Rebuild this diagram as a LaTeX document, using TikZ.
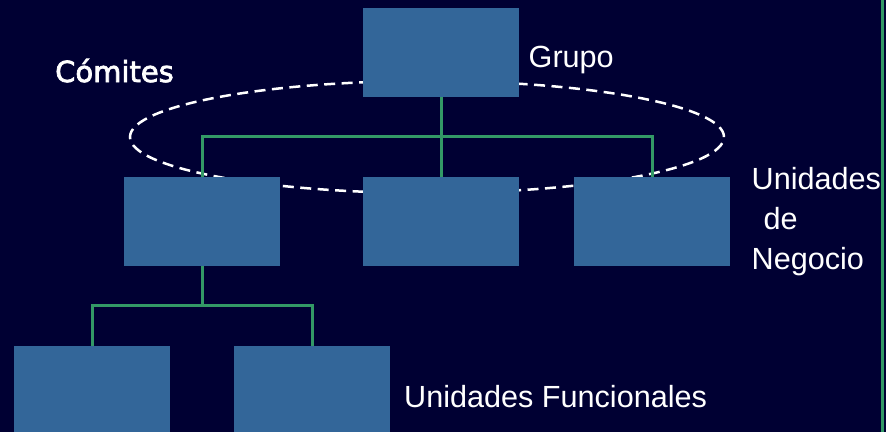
\documentclass[tikz,border=0pt]{standalone}
\usepackage{fontspec}
\setmainfont{Liberation Sans}
\newfontfamily\comfont{DejaVu Sans}[FakeBold=2.5]
\definecolor{bgnavy}{HTML}{000033}
\definecolor{boxblue}{HTML}{336699}
\definecolor{lineg}{HTML}{339966}
\begin{document}
\begin{tikzpicture}[x=1pt,y=-1pt,
  unitbox/.style={fill=boxblue,draw=none,inner sep=0pt,minimum width=156pt,minimum height=89pt},
  conn/.style={draw=lineg,line width=3pt},
  lbl/.style={text=white,inner sep=0pt,font=\fontsize{30.6}{40}\selectfont},
  comite/.style={draw=white,line width=2.5pt,dash pattern=on 11pt off 6.5pt}]
\fill[bgnavy] (0,0) rectangle (886,432);
\useasboundingbox (0,0) rectangle (886,432);
% committee ellipse
\draw[comite] (427,137) ellipse [x radius=297pt, y radius=56pt];
% boxes
\node[unitbox] (top) at (441,52.5) {};
\node[unitbox] (b1) at (202,221.5) {};
\node[unitbox] (b2) at (441,221.5) {};
\node[unitbox] (b3) at (652,221.5) {};
\node[unitbox,minimum height=86pt] (c1) at (92,389) {};
\node[unitbox,minimum height=86pt] (c2) at (312,389) {};
% connectors
\coordinate (j1) at (441,136);
\coordinate (j2) at (202,305);
\draw[conn] (top.south) -- (b2.north);
\draw[conn] (b1.north) |- (j1) -| (b3.north);
\draw[conn] (b1.south) -- (j2);
\draw[conn] (c1.north) |- (j2) -| (c2.north);
% right edge line
\draw[draw=lineg,line width=3pt] (882.5,0) -- (882.5,432);
% labels
\node[lbl,anchor=base west] (grupo) at (528.5,67) {Grupo};
\node[text=white,inner sep=0pt,anchor=base west,font=\comfont\fontsize{29}{32}\selectfont] (comites) at (55,82) {Cómites};
\node[lbl,anchor=base west,align=left] (negocio) at (751.5,269.5) {Unidades\\\hspace*{12pt}de\\Negocio};
\node[lbl,anchor=base west] (funcional) at (404,407) {Unidades Funcionales};
\end{tikzpicture}
\end{document}
